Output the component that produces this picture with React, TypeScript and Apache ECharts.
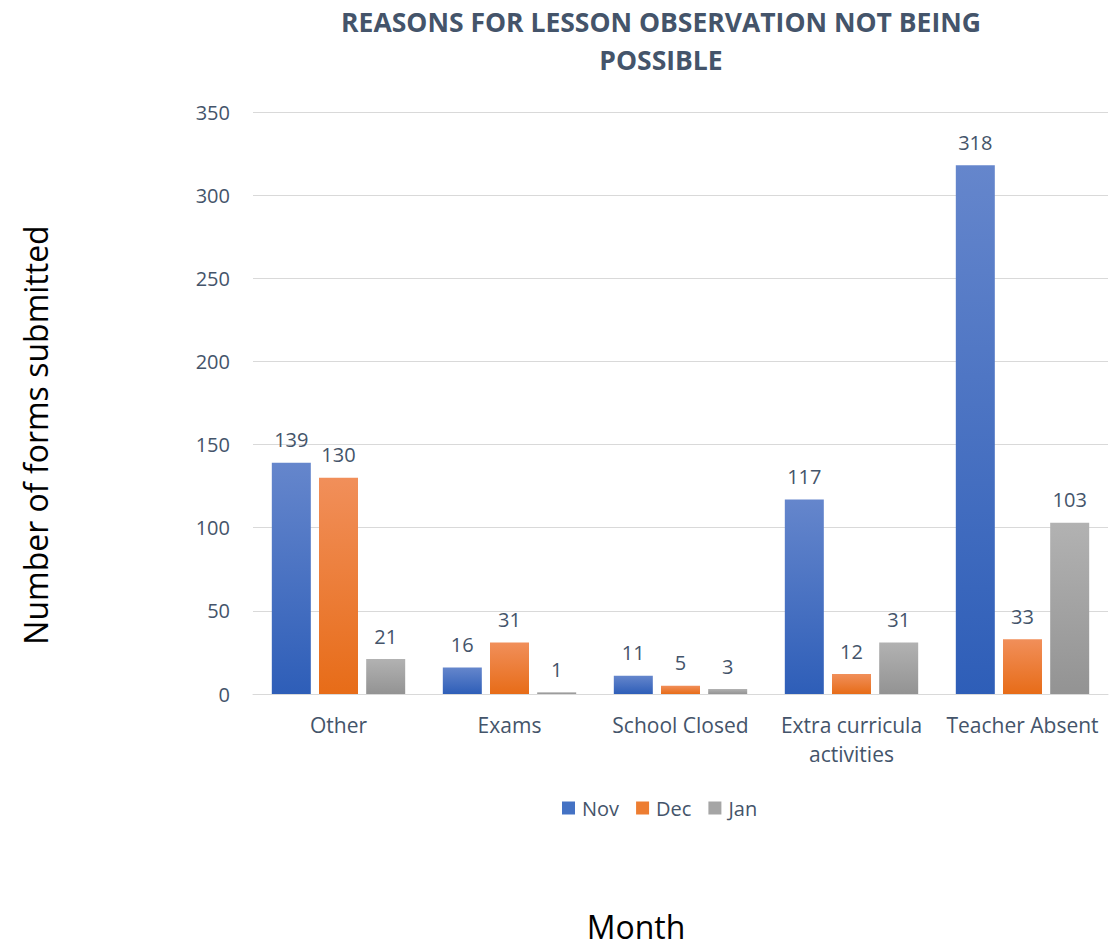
import React, { useEffect, useRef } from "react";
import * as echarts from "echarts";

const categories = ["Other", "Exams", "School Closed", "Extra curricula\nactivities", "Teacher Absent"];
const novValues = [139, 16, 11, 117, 318];
const decValues = [130, 31, 5, 12, 33];
const janValues = [21, 1, 3, 31, 103];
const seriesNames = ["Nov", "Dec", "Jan"];
const yTicks = { min: 0, max: 350, interval: 50 };

const FONT = "Open Sans";
const TXT = "#44546A";

const grad = (top: string, bottom: string) =>
  new echarts.graphic.LinearGradient(0, 0, 0, 1, [
    { offset: 0, color: top },
    { offset: 1, color: bottom },
  ]);

export default function App() {
  const ref = useRef<HTMLDivElement>(null);
  useEffect(() => {
    if (!ref.current) return;
    const chart = echarts.init(ref.current, undefined, { renderer: "svg" });
    const colors = [
      grad("#6586CC", "#2E5EB8"),
      grad("#F18F5A", "#E76C18"),
      grad("#B2B2B2", "#939393"),
    ];
    const legendColors = ["#4472C4", "#ED7D31", "#A5A5A5"];
    const data = [novValues, decValues, janValues];
    chart.setOption({
      animation: false,
      backgroundColor: "#ffffff",
      title: {
        text: "REASONS FOR LESSON OBSERVATION NOT BEING\nPOSSIBLE",
        left: 656,
        textAlign: "center",
        top: -2,
        textStyle: {
          fontFamily: FONT,
          fontSize: 26.5,
          fontWeight: "bold",
          color: TXT,
          lineHeight: 38,
        },
      },
      legend: {
        top: 793,
        left: 557,
        itemWidth: 13,
        itemHeight: 13,
        itemGap: 17,
        icon: "rect",
        textStyle: { fontFamily: FONT, fontSize: 20, color: TXT, padding: [0, 0, 0, 2] },
        data: seriesNames.map((n, i) => ({ name: n, itemStyle: { color: legendColors[i] } })),
      },
      grid: { left: 253, right: 11, top: 112, bottom: 255, containLabel: false },
      graphic: [
        {
          type: "text",
          x: 35,
          y: 435,
          rotation: Math.PI / 2,
          style: {
            text: "Number of forms submitted",
            fontFamily: FONT,
            fontSize: 32,
            fill: "#000000",
            textAlign: "center",
            textVerticalAlign: "middle",
          },
        },
        {
          type: "text",
          x: 636,
          y: 926,
          style: {
            text: "Month",
            fontFamily: FONT,
            fontSize: 32,
            fill: "#000000",
            textAlign: "center",
            textVerticalAlign: "middle",
          },
        },
      ],
      xAxis: {
        type: "category",
        data: categories,
        axisLine: { lineStyle: { color: "#D9D9D9", width: 1 } },
        axisTick: { show: false },
        axisLabel: {
          fontFamily: FONT,
          fontSize: 21,
          color: TXT,
          margin: 16,
          lineHeight: 29,
          interval: 0,
        },
      },
      yAxis: {
        type: "value",
        min: yTicks.min,
        max: yTicks.max,
        interval: yTicks.interval,
        axisLine: { show: false },
        axisTick: { show: false },
        axisLabel: { fontFamily: FONT, fontSize: 20, color: TXT, margin: 23 },
        splitLine: { lineStyle: { color: "#D9D9D9", width: 1 } },
      },
      series: seriesNames.map((name, i) => ({
        name,
        type: "bar",
        data: data[i],
        barWidth: 39,
        barGap: "21%",
        itemStyle: { color: colors[i] },
        label: {
          show: true,
          position: "top",
          distance: 13,
          fontFamily: FONT,
          fontSize: 20,
          color: TXT,
        },
      })),
    });
    return () => chart.dispose();
  }, []);
  return (
    <div
      ref={ref}
      style={{ position: "fixed", left: 0, top: 0, width: 1119, height: 949 }}
    />
  );
}
